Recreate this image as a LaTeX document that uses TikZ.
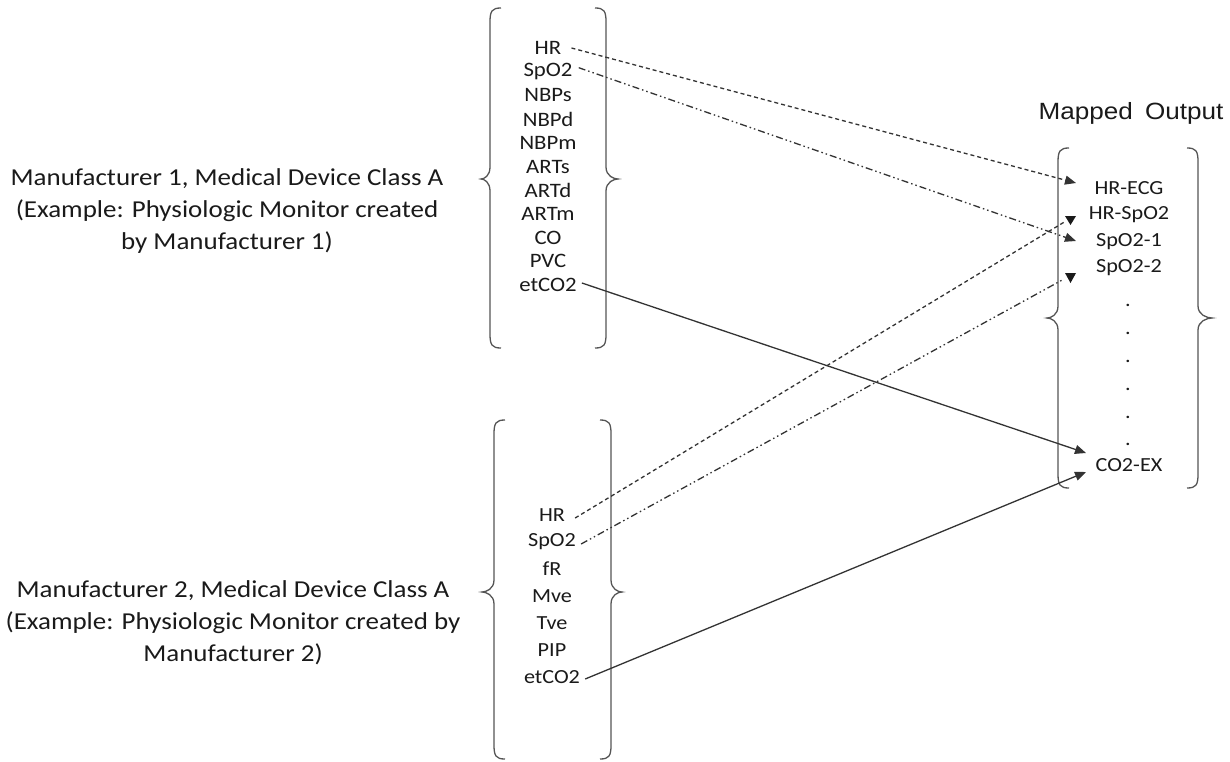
\documentclass[tikz,border=0pt]{standalone}
\usepackage{fontspec}
\setmainfont{Carlito}[FakeStretch=1.11]
\newfontfamily\arialfont{Liberation Sans}[FakeStretch=1.11]
\usetikzlibrary{arrows.meta}
\definecolor{ink}{HTML}{1A1A1A}
\definecolor{linec}{HTML}{333333}
\definecolor{bracec}{HTML}{555555}
\newcommand\drawbrace[6]{% #1 line x, #2 tip x, #3 top y, #4 mid y, #5 bottom y, #6 curl direction
  \draw[bracestyle] ({#1+#6*11},#3) .. controls ({#1+#6*2},#3) and (#1,{#3+3}) .. (#1,{#3+14})
    -- (#1,{#4-12}) .. controls (#1,{#4-3}) and ({#2+0.35*(#1-#2)},#4) .. (#2,#4)
    .. controls ({#2+0.35*(#1-#2)},#4) and (#1,{#4+3}) .. (#1,{#4+12})
    -- (#1,{#5-14}) .. controls (#1,{#5-3}) and ({#1+#6*2},#5) .. ({#1+#6*11},#5);}
\begin{document}
\begin{tikzpicture}[x=1pt,y=-1pt,
  bracestyle/.style={draw=bracec,line width=1.3pt},
  conn/.style={draw=linec,line width=1.3pt},
  dashedconn/.style={conn,dash pattern=on 4pt off 3pt},
  dddconn/.style={conn,dash pattern=on 7pt off 3pt on 1.5pt off 3pt on 1.5pt off 3pt},
  tip/.style={-{Triangle[length=11pt,width=9pt]}},
  itemA/.style={text=ink,inner sep=0pt,font=\fontsize{20.5}{24}\selectfont},
  itemB/.style={text=ink,inner sep=0pt,font=\fontsize{20}{24}\selectfont},
  label/.style={text=ink,align=center,inner sep=0pt,font=\fontsize{24.3}{32}\selectfont},
  vtip/.style={fill=ink}
]
\useasboundingbox (0,0) rectangle (1230,762);

% left labels
\node[label] (lab1) at (227,211) {Manufacturer 1, Medical Device Class A\\(Example:  Physiologic Monitor created\\by Manufacturer 1)};
\node[label] (lab2) at (233,623) {Manufacturer 2, Medical Device Class A\\(Example:  Physiologic Monitor created by\\Manufacturer 2)};

% title
\node[text=ink,inner sep=0pt,font=\arialfont\fontsize{23.5}{28}\selectfont] (title) at (1131,113) {Mapped\hspace{5pt} Output};

% braces
\drawbrace{490}{481}{8}{179}{348}{1}
\drawbrace{606}{618}{8}{179}{348}{-1}
\drawbrace{494}{482}{420}{592}{759}{1}
\drawbrace{611}{622}{420}{592}{759}{-1}
\drawbrace{1058}{1047}{148}{318}{488}{1}
\drawbrace{1198}{1212}{148}{318}{488}{-1}

% top list
\foreach \name/\txt [count=\i from 0] in {t1/HR,t2/SpO2,t3/NBPs,t4/NBPd,t5/NBPm,t6/ARTs,t7/ARTd,t8/ARTm,t9/CO,t10/PVC,t11/etCO2}
  \node[itemA] (\name) at (548,{48+23.7*\i}) {\txt};

% bottom list
\foreach \name/\txt [count=\i from 0] in {b1/HR,b2/SpO2,b3/fR,b4/Mve,b5/Tve,b6/PIP,b7/etCO2}
  \node[itemB] (\name) at (552,{515+27*\i}) {\txt};

% right list
\node[itemB] (r1) at (1129,188) {HR-ECG};
\node[itemB] (r2) at (1129,215) {HR-SpO2};
\node[itemB] (r3) at (1129,242) {SpO2-1};
\node[itemB] (r4) at (1129,268) {SpO2-2};
\node[itemB] (r5) at (1129,465) {CO2-EX};
\foreach \y [count=\i] in {304,332,360,388,416,443}
  \node[itemB,anchor=base] (dot\i) at (1128,{\y+2}) {.};

% connector end points
\coordinate (eHRECG) at (1076,183);
\coordinate (eHRSpO2) at (1066,221);
\coordinate (eSpOa) at (1076,241);
\coordinate (eSpOb) at (1064,279);
\coordinate (eCOa) at (1086,453);
\coordinate (eCOb) at (1086,472);

% connectors
\draw[dashedconn,tip] ([xshift=10pt]t1.east) -- (eHRECG);
\draw[dddconn,tip] ([xshift=6pt,yshift=4pt]t2.east) -- (eSpOa);
\draw[conn,tip] ([xshift=5pt,yshift=2pt]t11.east) -- (eCOa);
\draw[dashedconn] ([xshift=10pt,yshift=-3pt]b1.east) -- (eHRSpO2);
\draw[dddconn] ([xshift=5pt,yshift=-2pt]b2.east) -- (eSpOb);
\draw[conn,tip] ([xshift=5pt,yshift=-2pt]b7.east) -- (eCOb);

% downward arrow heads
\fill[vtip] (1065,216) -- (1076,216) -- (1070.5,225) -- cycle;
\fill[vtip] (1065,273) -- (1076,273) -- (1070.5,283) -- cycle;
\end{tikzpicture}
\end{document}
